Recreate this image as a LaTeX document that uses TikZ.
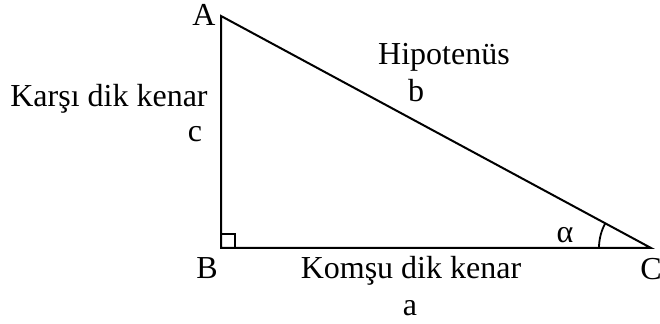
\documentclass[tikz,border=0pt]{standalone}
\usepackage{fontspec}
\setmainfont{Liberation Serif}
\usetikzlibrary{calc}
\tikzset{
  side/.style={line width=1pt, black, line join=miter},
  markline/.style={line width=0.9pt, black},
  trlabel/.style={font=\fontsize{16}{19}\selectfont, inner sep=0pt, anchor=base}
}
\begin{document}
\begin{tikzpicture}[x=0.5pt,y=-0.5pt]
  \useasboundingbox (0,0) rectangle (660,324);
  % vertices
  \coordinate (A) at (221,16);
  \coordinate (B) at (221,248);
  \coordinate (C) at (651,248);
  \draw[side] (A) -- (B) -- (C) -- cycle;
  % right angle and angle marks
  \draw[markline] ($(B)+(0,-14)$) -- ++(14,0) -- ++(0,14);
  \draw[markline] ($(C)+(-52,0)$) arc[start angle=180, end angle=151.6, radius=26pt];
  % labels
  \node[trlabel] (labA) at (204,26) {A};
  \node[trlabel] (labB) at (207,279) {B};
  \node[trlabel] (labC) at (651,280) {C};
  \node[trlabel] (hyp) at (444,65) {Hipotenüs};
  \node[trlabel] (labb) at (416,102) {b};
  \node[trlabel] (opp) at (109,107) {Karşı dik kenar};
  \node[trlabel] (labc) at (195,142) {c};
  \node[trlabel] (adj) at (411,279) {Komşu dik kenar};
  \node[trlabel] (laba) at (410,316) {a};
  \node[trlabel] (alpha) at (565,243) {α};
\end{tikzpicture}
\end{document}
